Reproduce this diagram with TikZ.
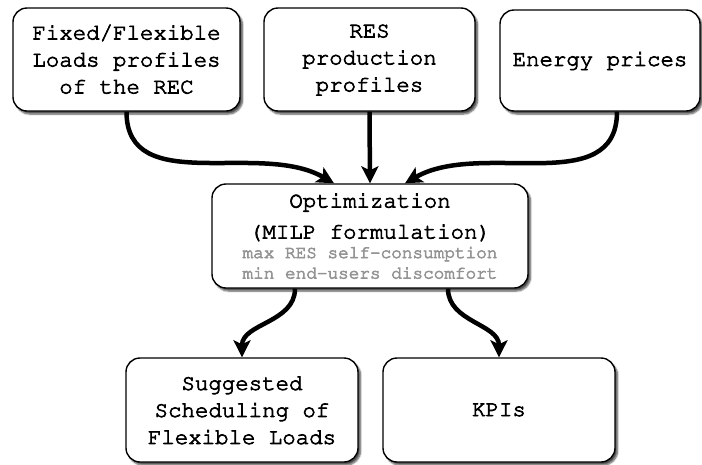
\documentclass[tikz,border=0pt]{standalone}
\usepackage[T1]{fontenc}
\usetikzlibrary{arrows.meta,shadows.blur}

% texto um pouco mais grosso (contorno do glifo)
\newcommand{\heavytext}{\special{pdf:literal direct 2 Tr 0.7 w}}

\tikzset{
    block/.style={draw, line width=1.4pt, rounded corners=14pt, fill=white,
        align=center, inner sep=0pt,
        font=\fontsize{22.4}{27}\fontfamily{pcr}\selectfont\heavytext,
        blur shadow={shadow xshift=2.5pt, shadow yshift=-3pt, shadow blur steps=6, shadow opacity=70}},
    flow/.style={line width=4.5pt, -{Stealth[length=17pt,width=17pt,inset=4pt]}},
}
\newcommand{\goalline}[1]{{\color{black!42}\fontsize{17.7}{21}\selectfont #1}}

\begin{document}
\begin{tikzpicture}[x=1pt,y=-1pt]
    \useasboundingbox (0,0) rectangle (702,464);

    % Entradas
    \node[block, minimum width=227pt, minimum height=103pt] (loads) at (126.5,59.5)
        {Fixed/Flexible\\Loads profiles\\of the REC};
    \node[block, minimum width=211pt, minimum height=103pt] (res) at (369.5,59.5)
        {RES\\production\\profiles};
    \node[block, minimum width=200pt, minimum height=101pt] (prices) at (600,60.5)
        {Energy prices};

    % Otimizacao
    \node[block, minimum width=316pt, minimum height=104pt] (opt) at (370,236)
        {Optimization\\[4pt](MILP formulation)\\[-7.5pt]
         \goalline{max RES self-consumption}\\[-6.5pt]
         \goalline{min end-users discomfort}};

    % Saidas
    \node[block, minimum width=232pt, minimum height=104pt] (sched) at (242,410)
        {Suggested\\Scheduling of\\Flexible Loads};
    \node[block, minimum width=232pt, minimum height=104pt] (kpi) at (499,410)
        {KPIs};

    % Setas
    \draw[flow] (loads.south) to[out=-90,in=150] ([xshift=-36pt]opt.north);
    \draw[flow] (res.south) -- (opt.north);
    \draw[flow] ([xshift=17pt]prices.south) to[out=-90,in=30] ([xshift=35pt]opt.north);
    \draw[flow] ([xshift=-75pt]opt.south) to[out=-90,in=90] (sched.north);
    \draw[flow] ([xshift=78pt]opt.south) to[out=-90,in=90] (kpi.north);

\end{tikzpicture}
\end{document}
